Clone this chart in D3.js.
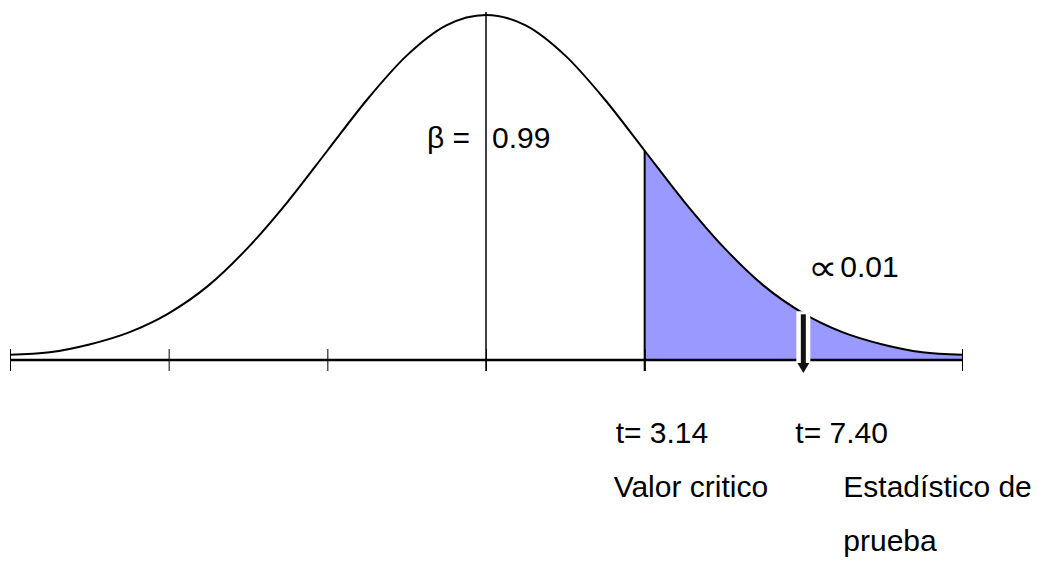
<!DOCTYPE html>
<html>
<head>
<meta charset="utf-8">
<script src="https://cdn.jsdelivr.net/npm/d3@7"></script>
<style>
  body { margin: 0; background: #fff; }
  text { font-family: "Liberation Sans", Arial, sans-serif; fill: #000; }
</style>
</head>
<body>
<div id="chart"></div>
<script>
// curve, x in standard units, y as density
var zValues = [-3, -2.75, -2.5, -2.25, -2, -1.75, -1.5, -1.25, -1, -0.75, -0.5, -0.25, 0,
               0.25, 0.5, 0.75, 1, 1.25, 1.5, 1.75, 2, 2.25, 2.5, 2.75, 3];
var densities = [0.006, 0.009, 0.018, 0.032, 0.054, 0.086, 0.130, 0.183, 0.242, 0.301, 0.352, 0.387, 0.399,
                 0.387, 0.352, 0.301, 0.242, 0.183, 0.130, 0.086, 0.054, 0.032, 0.018, 0.009, 0.006];
var tickValues = [-3, -2, -1, 0, 1, 2, 3];
var criticalZ = 1;     // where "t= 3.14" sits
var statisticZ = 2;    // where "t= 7.40" sits
var betaLabel = ['\u03b2 = ', '0.99'];
var alphaLabel = ['\u221d', '0.01'];
var criticalLabels = ['t= 3.14', 'Valor critico'];
var statisticLabels = ['t= 7.40', 'Estad\u00edstico de', 'prueba'];

var width = 1046, height = 561;
var margin = {top: 15, left: 10, right: 84, bottom: 201};

var data = zValues.map(function(z, i) { return {z: z, d: densities[i]}; });

var x = d3.scaleLinear().domain([-3, 3]).range([margin.left, width - margin.right]);
var y = d3.scaleLinear().domain([0, 0.399]).range([height - margin.bottom, margin.top]);
var base = y(0);

var svg = d3.select('#chart').append('svg')
    .attr('width', width)
    .attr('height', height);

// shaded tail
svg.append('clipPath').attr('id', 'tail')
    .append('rect')
    .attr('x', x(criticalZ)).attr('y', 0)
    .attr('width', x(3) - x(criticalZ)).attr('height', height);

var area = d3.area()
    .x(function(d) { return x(d.z); })
    .y0(base)
    .y1(function(d) { return y(d.d); })
    .curve(d3.curveMonotoneX);

svg.append('path')
    .datum(data)
    .attr('clip-path', 'url(#tail)')
    .attr('d', area)
    .attr('fill', '#9999ff');

// ticks on both sides of the axis
var axis = d3.axisBottom(x)
    .tickValues(tickValues)
    .tickSize(22)
    .tickSizeOuter(0)
    .tickFormat('');

var axisG = svg.append('g')
    .attr('transform', 'translate(0,' + (base - 11) + ')')
    .call(axis);
axisG.select('.domain').remove();
axisG.selectAll('.tick line').attr('stroke', '#000').attr('stroke-width', 1);

svg.append('line')
    .attr('x1', x(-3)).attr('x2', x(3))
    .attr('y1', base).attr('y2', base)
    .attr('stroke', '#000').attr('stroke-width', 2.5);

// curve
var line = d3.line()
    .x(function(d) { return x(d.z); })
    .y(function(d) { return y(d.d); })
    .curve(d3.curveMonotoneX);

svg.append('path')
    .datum(data)
    .attr('d', line)
    .attr('fill', 'none')
    .attr('stroke', '#000')
    .attr('stroke-width', 2);

// center line
svg.append('line')
    .attr('x1', x(0)).attr('x2', x(0))
    .attr('y1', y(0.399) - 3).attr('y2', base + 11)
    .attr('stroke', '#000').attr('stroke-width', 1.5);

// critical value line
var critD = densities[zValues.indexOf(criticalZ)];
svg.append('line')
    .attr('x1', x(criticalZ)).attr('x2', x(criticalZ))
    .attr('y1', y(critD)).attr('y2', base + 11)
    .attr('stroke', '#000').attr('stroke-width', 2);

// arrow at the test statistic, with white halo
var statD = densities[zValues.indexOf(statisticZ)];
var ax = x(statisticZ);
svg.append('rect')
    .attr('x', ax - 7).attr('y', y(statD) - 2)
    .attr('width', 14).attr('height', base - y(statD) + 4)
    .attr('fill', '#fff');
svg.append('line')
    .attr('x1', ax).attr('x2', ax)
    .attr('y1', y(statD) + 1).attr('y2', base + 4)
    .attr('stroke', '#111').attr('stroke-width', 5);
svg.append('path')
    .attr('d', 'M' + (ax - 6) + ',' + (base + 3) + 'L' + (ax + 6) + ',' + (base + 3) + 'L' + ax + ',' + (base + 13) + 'Z')
    .attr('fill', '#111');

// labels
var fs = 30;
svg.append('text')
    .attr('x', x(0) - 59).attr('y', 148)
    .attr('font-size', fs)
    .text(betaLabel[0]);
svg.append('text')
    .attr('x', x(0) + 6).attr('y', 148)
    .attr('font-size', fs)
    .text(betaLabel[1]);

svg.append('text')
    .attr('x', ax + 5).attr('y', 280)
    .attr('font-size', 36)
    .attr('transform', 'translate(' + (ax + 5) + ',0) scale(1.15,1) translate(' + (-(ax + 5)) + ',0)')
    .text(alphaLabel[0]);
svg.append('text')
    .attr('x', ax + 37).attr('y', 277)
    .attr('font-size', fs)
    .text(alphaLabel[1]);

svg.append('text')
    .attr('x', x(criticalZ) - 29).attr('y', 443)
    .attr('font-size', fs).text(criticalLabels[0]);
svg.append('text')
    .attr('x', x(criticalZ) - 31).attr('y', 497)
    .attr('font-size', fs).text(criticalLabels[1]);

statisticLabels.forEach(function(s, i) {
    svg.append('text')
        .attr('x', i === 0 ? ax - 8 : ax + 40)
        .attr('y', [443, 497, 551][i])
        .attr('font-size', fs)
        .text(s);
});
</script>
</body>
</html>
